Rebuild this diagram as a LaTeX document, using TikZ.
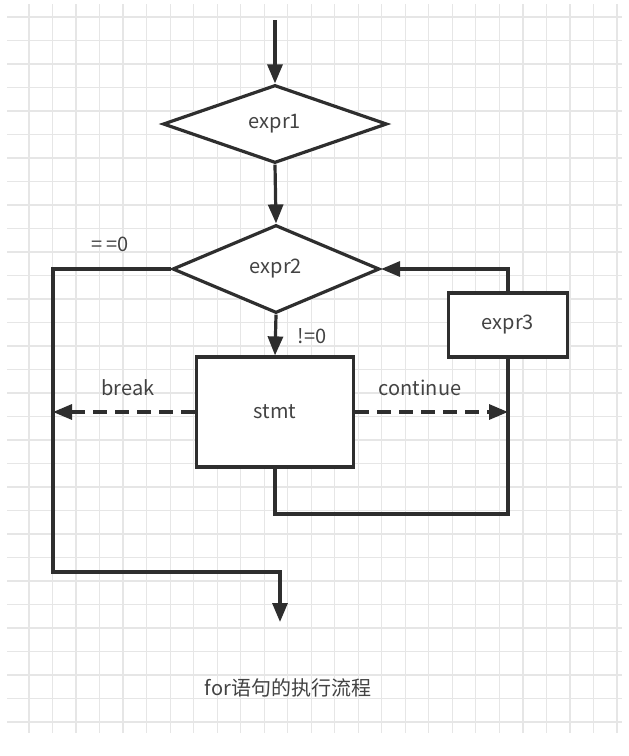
\documentclass[tikz,border=0pt]{standalone}
\usepackage{fontspec}
\setmainfont{Noto Sans CJK SC}
\usetikzlibrary{shapes.geometric,arrows.meta}
\definecolor{ink}{HTML}{2E2E2E}
\definecolor{gridc}{HTML}{E6E6E6}
\begin{document}
\begin{tikzpicture}[
    x=1pt, y=-1pt,
    every node/.style={font=\fontsize{20}{23}\selectfont, text=ink!90},
    decision/.style={draw=ink, line width=3.2pt, diamond, inner sep=0pt, fill=white},
    block/.style={draw=ink, line width=3.2pt, rectangle, inner sep=0pt, fill=white},
    gridline/.style={gridc, line width=1.2pt},
    line/.style={draw=ink, line width=3.2pt},
    arr/.style={line, -{Triangle[length=19pt, width=15pt]}},
    jump/.style={arr, dash pattern=on 14pt off 8pt}
]
\useasboundingbox (0,0) rectangle (629,756);
\fill[white] (0,0) rectangle (629,756);

% Grid
\foreach \i in {0,...,25}
    \draw[gridline] ({29+23.52*\i},4) -- ({29+23.52*\i},733);
\foreach \j in {0,...,30}
    \draw[gridline] (7,{17+23.5*\j}) -- (622,{17+23.5*\j});

% Loop parts
\node[decision, minimum width=224pt, minimum height=78pt] (expr1) at (275,124) {expr1};
\node[decision, minimum width=207pt, minimum height=88pt] (expr2) at (276,269) {expr2};
\node[block, minimum width=157pt, minimum height=110pt] (stmt) at (275,412) {stmt};
\node[block, minimum width=119pt, minimum height=64pt] (expr3) at (508,325) {expr3};

% Corners
\coordinate (entry) at (275,20);
\coordinate (lefttop) at (53,269);
\coordinate (leftbot) at (53,572);
\coordinate (exit) at (280,622);
\coordinate (brk) at (53,412);
\coordinate (cnt) at (508,412);
\coordinate (back) at (508,514);

% Labels
\node (zero) at (110,244) {=\,=0};
\node (nonzero) at (312,336) {!=0};
\node (breaklbl) at (128,388) {break};
\node (contlbl) at (420,388) {continue};
\node (caption) at (288,688) {for语句的执行流程};

% Arrows
\draw[arr] (entry) -- (expr1.north);
\draw[arr] (expr1.south) -- (expr2.north);
\draw[arr] (expr2.south) -- (stmt.north);
\draw[line] (stmt.south) |- (back) -- (expr3.south);
\draw[arr] (expr3.north) |- (expr2.east);
\draw[arr] (expr2.west) -- (lefttop) -- (leftbot) -| (exit);
\draw[jump] (stmt.west) -- (brk);
\draw[jump] (stmt.east) -- (cnt);
\end{tikzpicture}
\end{document}
